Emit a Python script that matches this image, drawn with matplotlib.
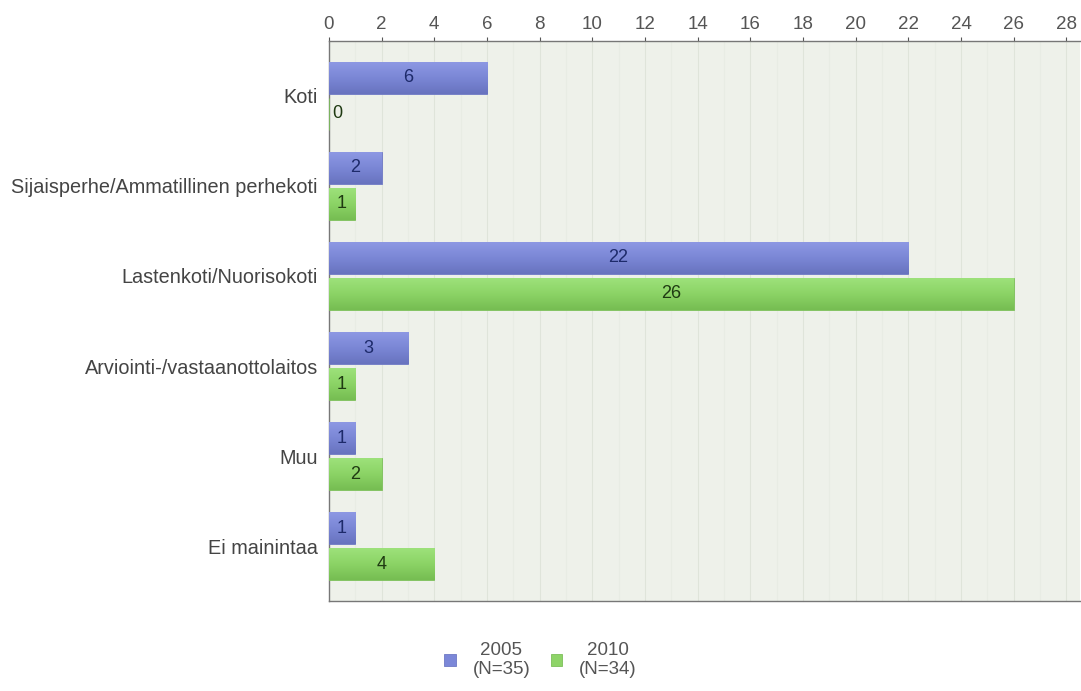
import numpy as np
import matplotlib
matplotlib.use('Agg')
from matplotlib import pyplot as plt
from matplotlib.colors import LinearSegmentedColormap

categories = ['Koti', 'Sijaisperhe/Ammatillinen perhekoti', 'Lastenkoti/Nuorisokoti',
              'Arviointi-/vastaanottolaitos', 'Muu', 'Ei mainintaa']
values_2005 = [6, 2, 22, 3, 1, 1]
values_2010 = [0, 1, 26, 1, 2, 4]
series_labels = ['2005\n(N=35)', '2010\n(N=34)']
xticks = list(range(0, 30, 2))

plt.rcParams['font.family'] = ['Liberation Sans', 'DejaVu Sans']

fig = plt.figure(figsize=(10.81, 6.91), dpi=100)
ax = fig.add_axes([0.3043, 0.1302, 0.695, 0.8105])
ax.set_facecolor('#eef1ea')

y = np.arange(len(categories))
h = 0.36
off = 0.2
blue = '#7b87d8'
green = '#8ed468'
blue_cmap = LinearSegmentedColormap.from_list('b', ['#8e99e4', '#7b87d6', '#6873bf'])
green_cmap = LinearSegmentedColormap.from_list('g', ['#9ee27c', '#8cd466', '#76bd52'])

b1 = ax.barh(y - off, values_2005, height=h, color=blue, edgecolor='#6e79c4', linewidth=0.6,
             label=series_labels[0], zorder=3)
b2 = ax.barh(y + off, values_2010, height=h, color=green, edgecolor='#7cbf5a', linewidth=0.6,
             label=series_labels[1], zorder=3)

# vertical gradient inside every bar
grad = np.linspace(0, 1, 64).reshape(-1, 1)
for bars, cmap in [(b1, blue_cmap), (b2, green_cmap)]:
    for r in bars:
        x0, y0 = r.get_x(), r.get_y()
        w, hh = r.get_width(), r.get_height()
        if w <= 0:
            continue
        im = ax.imshow(grad, cmap=cmap, aspect='auto', extent=(x0, x0 + w, y0 + hh, y0),
                       zorder=3.5, interpolation='bilinear')
        im.set_clip_path(r)

for yy, v in zip(y - off, values_2005):
    xpos = v / 2 if v > 0 else 0.05
    ax.text(xpos, yy, str(v), ha='center' if v > 0 else 'left', va='center',
            fontsize=13, color='#1d2a6a', zorder=4)
for yy, v in zip(y + off, values_2010):
    xpos = v / 2 if v > 0 else 0.12
    ax.text(xpos, yy, str(v), ha='center' if v > 0 else 'left', va='center',
            fontsize=13, color='#1f3a12', zorder=4)

ax.set_xlim(0, 28.53)
ax.set_ylim(5.61, -0.61)
ax.set_xticks(xticks)
ax.xaxis.tick_top()
ax.tick_params(axis='x', colors='#555555', labelsize=13.5, length=3, width=0.8,
               labelcolor='#555555', pad=3)
ax.set_yticks(y)
ax.set_yticklabels(categories, fontsize=14.3, color='#444444')
ax.tick_params(axis='y', length=0, pad=8)

# faint vertical grid: every unit, stronger at tick positions
for xv in range(1, 29):
    ax.axvline(xv, color='#dfe4da' if xv % 2 == 0 else '#e8ece4', linewidth=0.8, zorder=1)

ax.spines['right'].set_visible(False)
for side in ['top', 'left', 'bottom']:
    ax.spines[side].set_color('#777777')
    ax.spines[side].set_linewidth(1.0)

leg = fig.legend(handles=[b1, b2], labels=series_labels, loc='center',
                 bbox_to_anchor=(0.5, 0.045), ncol=2, frameon=False,
                 fontsize=13.5, handlelength=0.6, handleheight=0.6,
                 handletextpad=0.9, columnspacing=1.1)
for t in leg.get_texts():
    t.set_color('#555555')
    t.set_ha('center')
    t.set_linespacing(1.2)

fig.savefig('out.png', dpi=100)
